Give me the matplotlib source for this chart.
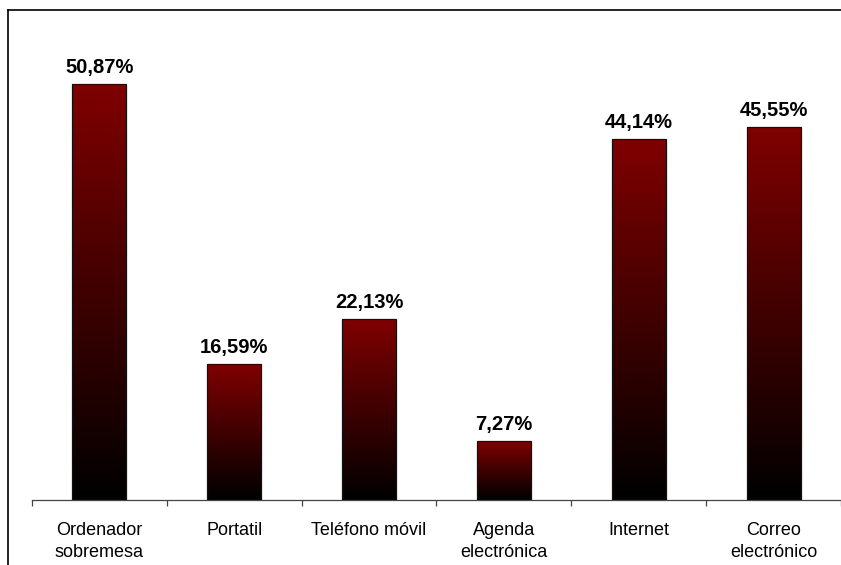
import numpy as np
import matplotlib.pyplot as plt
from matplotlib.colors import LinearSegmentedColormap
from matplotlib.lines import Line2D

plt.rcParams['font.family'] = ['Liberation Sans', 'DejaVu Sans']

categories = ['Ordenador\nsobremesa', 'Portatil', 'Teléfono móvil',
              'Agenda\nelectrónica', 'Internet', 'Correo\nelectrónico']
values = [50.87, 16.59, 22.13, 7.27, 44.14, 45.55]
labels = ['50,87%', '16,59%', '22,13%', '7,27%', '44,14%', '45,55%']

fig = plt.figure(figsize=(8.41, 5.65), dpi=100)
ax = fig.add_axes([32 / 841, 65 / 565, 1 - 32 / 841, 491 / 565])
ax.patch.set_visible(False)

# black at the base fading up to dark red
grad = LinearSegmentedColormap.from_list('wine', ['#000000', '#800000'])
ramp = np.linspace(0, 1, 256).reshape(-1, 1)

x = np.arange(len(values))
bars = ax.bar(x, values, width=0.4, color='none', edgecolor='#111111',
              linewidth=0.9, zorder=3)
for bar, lab in zip(bars, labels):
    x0, w, h = bar.get_x(), bar.get_width(), bar.get_height()
    img = ax.imshow(ramp, cmap=grad, origin='lower', aspect='auto',
                    extent=[x0, x0 + w, 0, h], zorder=2)
    img.set_clip_path(bar)
    ax.text(x0 + w / 2, h + 0.85, lab, ha='center', va='bottom',
            fontsize=14.5, fontweight='bold')

ax.set_xlim(-0.5, len(values) - 0.5)
ax.set_ylim(0, 60)
ax.set_yticks([])
for side in ['top', 'right', 'left']:
    ax.spines[side].set_visible(False)
ax.spines['bottom'].set_color('#444444')
ax.spines['bottom'].set_linewidth(0.9)

ax.set_xticks(x)
ax.set_xticklabels(categories, fontsize=13, linespacing=1.35)
ax.tick_params(axis='x', which='major', length=0, pad=16)
ax.set_xticks(np.arange(-0.5, len(values)), minor=True)
ax.tick_params(axis='x', which='minor', length=4, width=0.9, color='#444444')

# frame around the chart (left and top edges fall inside the image)
fx, fy = 7.5 / 841, 1 - 9.5 / 565
fig.add_artist(Line2D([fx, fx], [0, fy], transform=fig.transFigure,
                      color='black', linewidth=1.2))
fig.add_artist(Line2D([fx, 1.01], [fy, fy], transform=fig.transFigure,
                      color='black', linewidth=1.2))

fig.savefig('out.png', dpi=100)
